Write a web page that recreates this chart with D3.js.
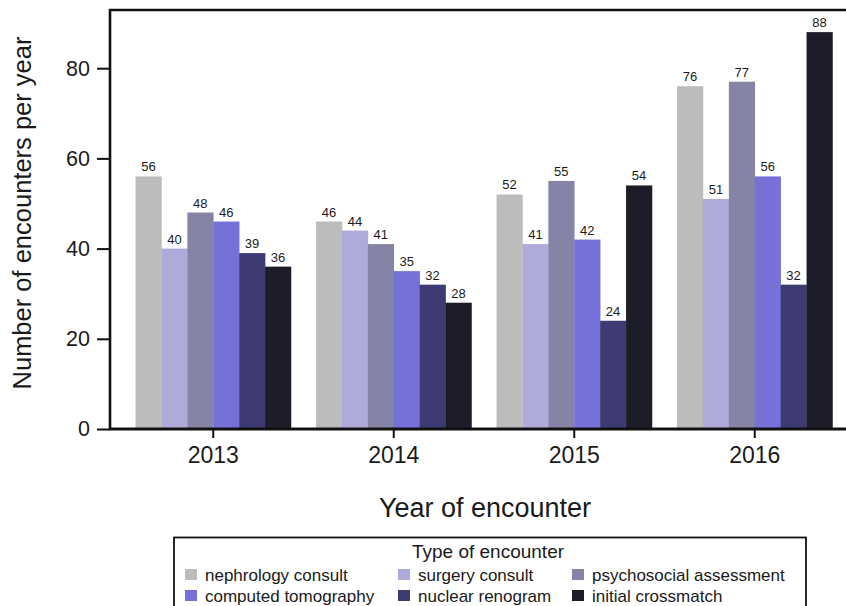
<!DOCTYPE html>
<html>
<head>
<meta charset="utf-8">
<script src="https://cdn.jsdelivr.net/npm/d3@7"></script>
<style>
  body { margin: 0; background: #fff; }
  text { font-family: "Liberation Sans", Arial, sans-serif; fill: #1a1a1a; }
</style>
</head>
<body>
<svg id="chart" width="846" height="606"></svg>
<script>
(function() {

  var years = ['2013', '2014', '2015', '2016'];
  var types = ['nephrology consult', 'surgery consult', 'psychosocial assessment',
               'computed tomography', 'nuclear renogram', 'initial crossmatch'];
  var colors = ['#bcbcbc', '#aeabdb', '#8584a6', '#7571d8', '#3e3a72', '#1c1d28'];

  var nephrology = [56, 46, 52, 76];
  var surgery = [40, 44, 41, 51];
  var psychosocial = [48, 41, 55, 77];
  var tomography = [46, 35, 42, 56];
  var renogram = [39, 32, 24, 32];
  var crossmatch = [36, 28, 54, 88];
  var yTicks = [0, 20, 40, 60, 80];

  var series = [nephrology, surgery, psychosocial, tomography, renogram, crossmatch];

  var margin = { top: 10, left: 110 },
      plotRight = 850,
      plotBottom = 429;

  var svg = d3.select('#chart');

  var yScale = d3.scaleLinear()
      .domain([0, 92.9])
      .range([plotBottom, margin.top]);

  var xScale = d3.scaleBand()
      .domain(years)
      .range([123, 845])
      .paddingInner(0.139)
      .paddingOuter(0.0695);

  var xInner = d3.scaleBand()
      .domain(types)
      .range([0, xScale.bandwidth()]);

  var colorScale = d3.scaleOrdinal()
      .domain(types)
      .range(colors);

  // bars
  var groups = svg.append('g')
    .selectAll('g')
    .data(years)
    .enter().append('g')
      .attr('transform', function(d) { return 'translate(' + xScale(d) + ',0)'; });

  function cells(d, i) {
    return types.map(function(t, j) { return { type: t, value: series[j][i] }; });
  }

  groups.selectAll('rect')
    .data(cells)
    .enter().append('rect')
      .attr('x', function(d) { return xInner(d.type); })
      .attr('width', xInner.bandwidth() + 0.3)
      .attr('y', function(d) { return yScale(d.value); })
      .attr('height', function(d) { return plotBottom - yScale(d.value); })
      .attr('fill', function(d) { return colorScale(d.type); });

  groups.selectAll('.val')
    .data(cells)
    .enter().append('text')
      .attr('class', 'val')
      .attr('x', function(d) { return xInner(d.type) + xInner.bandwidth() / 2; })
      .attr('y', function(d) { return yScale(d.value) - 5; })
      .attr('text-anchor', 'middle')
      .attr('font-size', 13)
      .text(function(d) { return d.value; });

  // frame
  svg.append('path')
      .attr('d', 'M' + margin.left + ',' + plotBottom + 'V' + margin.top + 'H' + plotRight)
      .attr('fill', 'none')
      .attr('stroke', '#111')
      .attr('stroke-width', 2.6);

  // axes
  var yAxis = svg.append('g')
      .attr('transform', 'translate(' + margin.left + ',0)')
      .call(d3.axisLeft(yScale).tickValues(yTicks).tickSize(13).tickPadding(7));

  var xAxis = svg.append('g')
      .attr('transform', 'translate(0,' + plotBottom + ')')
      .call(d3.axisBottom(xScale).tickSize(9).tickPadding(9));

  [yAxis, xAxis].forEach(function(a) {
    a.select('.domain').remove();
    a.selectAll('line').attr('stroke', '#111').attr('stroke-width', 2);
    a.selectAll('text').attr('fill', '#1a1a1a')
      .attr('font-family', '"Liberation Sans", Arial, sans-serif');
  });
  yAxis.selectAll('text').attr('font-size', 21.5);
  xAxis.selectAll('text').attr('font-size', 23);

  svg.append('line')
      .attr('x1', margin.left - 1).attr('x2', plotRight)
      .attr('y1', plotBottom).attr('y2', plotBottom)
      .attr('stroke', '#111')
      .attr('stroke-width', 3);

  // axis titles
  svg.append('text')
      .attr('transform', 'translate(31,213) rotate(-90)')
      .attr('text-anchor', 'middle')
      .attr('font-size', 25.5)
      .text('Number of encounters per year');

  svg.append('text')
      .attr('x', 485)
      .attr('y', 517)
      .attr('text-anchor', 'middle')
      .attr('font-size', 27)
      .text('Year of encounter');

  // legend
  var legend = svg.append('g');

  legend.append('rect')
      .attr('x', 174).attr('y', 537.5)
      .attr('width', 632).attr('height', 80)
      .attr('fill', 'none')
      .attr('stroke', '#111')
      .attr('stroke-width', 1.8);

  legend.append('text')
      .attr('x', 488)
      .attr('y', 558)
      .attr('text-anchor', 'middle')
      .attr('font-size', 19)
      .text('Type of encounter');

  var colX = [185, 398, 572];
  var items = legend.selectAll('.item')
    .data(types)
    .enter().append('g')
      .attr('class', 'item')
      .attr('transform', function(d, i) {
        return 'translate(' + colX[i % 3] + ',' + (569 + Math.floor(i / 3) * 21) + ')';
      });

  items.append('rect')
      .attr('width', 12).attr('height', 11)
      .attr('fill', function(d) { return colorScale(d); });

  items.append('text')
      .attr('x', 20)
      .attr('y', 12)
      .attr('font-size', 17)
      .text(function(d) { return d; });

})()
</script>
</body>
</html>
